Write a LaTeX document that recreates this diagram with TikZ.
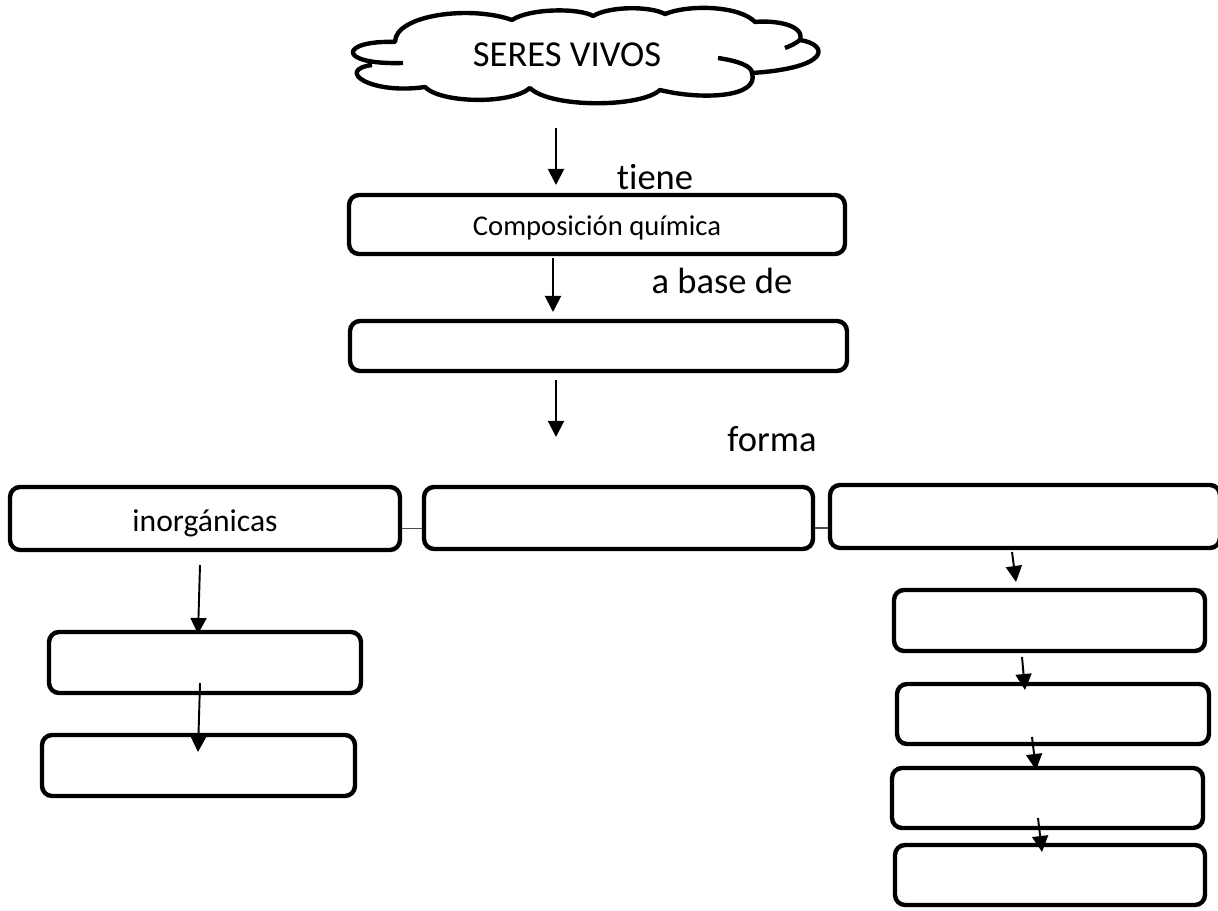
\documentclass[tikz,border=0pt]{standalone}
\usepackage{fontspec}
\setmainfont{Carlito}[Ligatures=CommonOff]
\usetikzlibrary{arrows.meta}

\newcommand{\grande}{\fontsize{20.8}{25}\selectfont}

\begin{document}
\begin{tikzpicture}[x=0.02cm,y=-0.02cm,
    caja/.style={draw,line width=2.5pt,rounded corners=0.2cm,inner sep=0pt},
    flecha/.style={line width=1.1pt,-{Triangle[width=0.32cm,length=0.32cm]}},
    enlace/.style={line width=0.8pt,black!70},
    rotulo/.style={anchor=base,inner sep=0pt,font=\grande},
    nube/.style={line width=2.5pt,line join=round}]
  \useasboundingbox (0,0) rectangle (1218,911);

  % nube
  \draw[nube] (403,63) .. controls (335,65) and (340,40) .. (395,42)
    .. controls (395,15) and (470,5) .. (512,20)
    .. controls (530,8) and (580,8) .. (593,16)
    .. controls (610,6) and (650,6) .. (665,14)
    .. controls (690,4) and (740,6) .. (755,22)
    .. controls (775,20) and (805,25) .. (800,40)
    .. controls (830,45) and (830,68) .. (752,73)
    .. controls (760,98) and (700,100) .. (660,90)
    .. controls (640,108) and (550,108) .. (530,88)
    .. controls (510,105) and (440,103) .. (425,87)
    .. controls (370,95) and (335,70) .. (372,65);
  \draw[nube] (800,40) .. controls (795,44) and (790,46) .. (785,48);
  \draw[nube] (718,58) .. controls (738,61) and (752,66) .. (752,73);
  \node[rotulo] (seres) at (567,67) {SERES VIVOS};

  % cajas
  \node[caja,minimum width=9.92cm,minimum height=1.18cm,text height=13pt,text depth=0pt,
    font=\fontsize{16.3}{19}\selectfont] (comp) at (597,224.5) {Composición química};
  \node[caja,minimum width=9.94cm,minimum height=1.0cm] (base) at (598.5,346) {};
  \node[caja,minimum width=7.8cm,minimum height=1.26cm,text height=15pt,text depth=0pt,
    font=\fontsize{18}{22}\selectfont] (inorg) at (205,518.5) {inorgánicas};
  \node[caja,minimum width=7.78cm,minimum height=1.24cm] (org) at (618.5,518) {};
  \node[caja,minimum width=7.8cm,minimum height=1.26cm] (otra) at (1025,516.5) {};
  \node[caja,minimum width=6.24cm,minimum height=1.22cm] (l1) at (205,662.5) {};
  \node[caja,minimum width=6.26cm,minimum height=1.22cm] (l2) at (198.5,765.5) {};
  \node[caja,minimum width=6.22cm,minimum height=1.22cm] (r1) at (1049.5,620.5) {};
  \node[caja,minimum width=6.24cm,minimum height=1.2cm] (r2) at (1053,714) {};
  \node[caja,minimum width=6.22cm,minimum height=1.2cm] (r3) at (1047.5,798) {};
  \node[caja,minimum width=6.2cm,minimum height=1.2cm] (r4) at (1050,875) {};

  % rotulos
  \node[rotulo] (tiene) at (655,190) {tiene};
  \node[rotulo] (abase) at (722,294) {a base de};
  \node[rotulo] (forma) at (772,452) {forma};

  % flechas
  \coordinate (f1a) at (556,128); \coordinate (f1b) at (556,185);
  \coordinate (f2a) at (553,258); \coordinate (f2b) at (553,312);
  \coordinate (f3a) at (556,380); \coordinate (f3b) at (556,437);
  \coordinate (f4a) at (200,565); \coordinate (f4b) at (198,634);
  \coordinate (f5a) at (200,683); \coordinate (f5b) at (198,752);
  \coordinate (f6a) at (1012,552); \coordinate (f6b) at (1016,582);
  \coordinate (f7a) at (1022,657); \coordinate (f7b) at (1025,690);
  \coordinate (f8a) at (1032,737); \coordinate (f8b) at (1036,770);
  \coordinate (f9a) at (1038,818); \coordinate (f9b) at (1042,852);
  \draw[flecha] (f1a) -- (f1b);
  \draw[flecha] (f2a) -- (f2b);
  \draw[flecha] (f3a) -- (f3b);
  \draw[flecha] (f4a) -- (f4b);
  \draw[flecha] (f5a) -- (f5b);
  \draw[flecha] (f6a) -- (f6b);
  \draw[flecha] (f7a) -- (f7b);
  \draw[flecha] (f8a) -- (f8b);
  \draw[flecha] (f9a) -- (f9b);

  % enlaces
  \draw[enlace] ([yshift=-0.2cm]inorg.east) -- ([yshift=-0.2cm]inorg.east -| org.west);
  \draw[enlace] ([yshift=-0.2cm]org.east) -- ([yshift=-0.2cm]org.east -| otra.west);
\end{tikzpicture}
\end{document}
